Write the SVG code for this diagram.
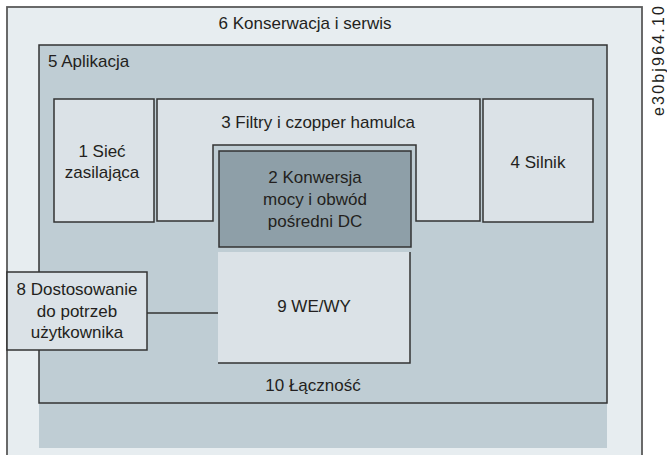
<svg xmlns="http://www.w3.org/2000/svg" width="667" height="455" viewBox="0 0 667 455">
<style>
text{font-family:"Liberation Sans",Arial,sans-serif;font-size:17px;fill:#231f20;text-anchor:middle}
.light{fill:#dbe2e7;stroke:#333;stroke-width:1.5}
.conn{stroke:#333;stroke-width:1.3;fill:none}
</style>
<rect width="667" height="455" fill="#fff"/>
<g id="n6">
<rect x="7" y="7" width="635" height="460" fill="#e7edf0" stroke="#5a5a5a" stroke-width="1.8"/>
<text x="305" y="29">6 Konserwacja i serwis</text>
</g>
<g id="n7">
<rect x="39" y="403" width="568" height="45" fill="#bfcdd4"/>
</g>
<g id="n5">
<rect x="39" y="45" width="568" height="358" fill="#bfcdd4" stroke="#333" stroke-width="1.5"/>
<text x="48" y="67" style="text-anchor:start">5 Aplikacja</text>
<text x="313" y="391">10 Łączność</text>
</g>
<g id="n1">
<rect class="light" x="54" y="99" width="100" height="123"/>
<text x="102" y="157">1 Sieć</text>
<text x="102" y="178">zasilająca</text>
</g>
<g id="n3">
<path class="light" d="M157,99 H480 V221 H416 V145 H213 V221 H157 Z"/>
<text x="318" y="128">3 Filtry i czopper hamulca</text>
</g>
<g id="n4">
<rect class="light" x="483" y="99" width="110" height="123"/>
<text x="538" y="168">4 Silnik</text>
</g>
<g id="n2">
<rect x="219" y="151" width="192" height="96" fill="#8e9fa8" stroke="#333" stroke-width="1.5"/>
<text x="315" y="183">2 Konwersja</text>
<text x="315" y="205">mocy i obwód</text>
<text x="315" y="227">pośredni DC</text>
</g>
<g id="n9">
<rect x="218" y="252" width="192" height="111" fill="#dbe2e7"/>
<path d="M410,252 V363 H218" fill="none" stroke="#333" stroke-width="1.5"/>
<text x="314" y="312">9 WE/WY</text>
</g>
<g id="n8">
<rect class="light" x="7" y="272" width="140" height="78"/>
<text x="77" y="295">8 Dostosowanie</text>
<text x="77" y="317">do potrzeb</text>
<text x="77" y="338">użytkownika</text>
</g>
<g id="connectors">
<line class="conn" x1="147" y1="313" x2="218" y2="313"/>
</g>
<text x="0" y="0" transform="translate(664,116) rotate(-90)" style="text-anchor:start;font-size:16px" textLength="110" lengthAdjust="spacing">e30bj964.10</text>
</svg>
